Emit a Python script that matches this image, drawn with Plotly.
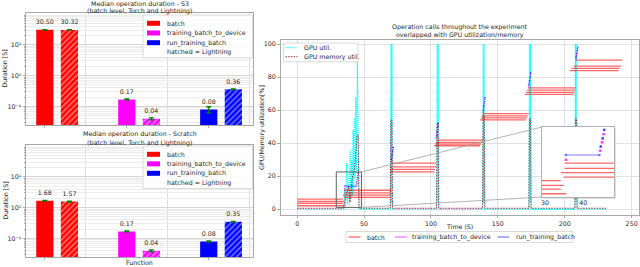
import plotly.graph_objects as go

W, H = 640, 267
FONT = "DejaVu Sans"
FS = 6.3
INK = "#262626"
SPINE = "#a8a8a8"

# ---------------- data: median operation durations (left panels) ----------------
functions = ["batch", "training_batch_to_device", "run_training_batch"]
func_colors = ["#ff0000", "#ff00ff", "#0000ff"]
s3_torch = [30.50, 0.17, 0.08]
s3_lightning = [30.32, 0.04, 0.36]
s3_torch_err = [0.6, 0.006, 0.018]
s3_lightning_err = [0.6, 0.003, 0.012]
scratch_torch = [1.68, 0.17, 0.08]
scratch_lightning = [1.57, 0.04, 0.35]
scratch_torch_err = [0.05, 0.006, 0.004]
scratch_lightning_err = [0.05, 0.003, 0.01]
dur_tick_vals = [0.1, 1, 10]
dur_tick_text = ["10⁻¹", "10⁰", "10¹"]

# ---------------- data: operation calls timeline (right panel) ----------------
batch_level = [6.0, 4.6, 3.4, 2.0,
               7.1, 8.5, 9.8, 11.4,
               22.6, 24.1, 25.6, 27.9,
               38.4, 39.4, 40.4, 41.8,
               54.1, 55.3, 56.5, 57.9,
               69.5, 70.7, 72.1, 73.5,
               83.9, 85.3, 86.7, 90.3]
batch_start = [0.0, 0.0, 0.0, 0.0,
               34.8, 34.1, 35.1, 35.1,
               69.3, 69.5, 70.0, 70.2,
               102.5, 103.0, 103.7, 105.0,
               136.6, 137.5, 138.0, 138.8,
               170.0, 171.0, 171.8, 172.4,
               203.7, 205.0, 206.7, 208.2]
batch_end = [34.1, 34.8, 34.1, 35.5,
             69.3, 69.5, 70.0, 70.2,
             102.5, 103.0, 103.7, 103.7,
             136.6, 137.5, 138.0, 138.8,
             171.0, 171.9, 172.4, 173.0,
             206.9, 207.3, 207.7, 208.0,
             240.3, 241.0, 242.3, 243.0]

tbd_start = [35.4, 44.3, 44.8, 45.2,
             70.3, 70.7, 71.1, 71.5,
             103.9, 104.3, 104.7, 105.1,
             138.9, 139.3, 139.7, 140.1,
             173.0, 173.4, 173.8, 174.2,
             208.3, 208.7, 209.1, 209.5]
tbd_level = [12.4, 15.2, 17.8, 20.3,
             29.0, 31.4, 33.8, 36.2,
             43.0, 45.6, 48.2, 50.8,
             58.8, 61.3, 63.8, 66.3,
             74.5, 76.8, 79.1, 81.4,
             91.2, 93.2, 95.2, 97.2]
tbd_duration = 0.17

rtb_start = [35.4, 44.5, 45.0, 45.4,
             70.5, 70.9, 71.3, 71.7,
             104.1, 104.5, 104.9, 105.3,
             139.1, 139.5, 139.9, 140.3,
             173.2, 173.6, 174.0, 174.4,
             208.5, 208.9, 209.3, 209.7]
rtb_duration = [8.8, 0.08, 0.08, 0.08,
                0.08, 0.08, 0.08, 0.08,
                0.08, 0.08, 0.08, 0.08,
                0.08, 0.08, 0.08, 0.08,
                0.08, 0.08, 0.08, 0.08,
                0.08, 0.08, 0.08, 0.08]
rtb_level = [13.9, 16.5, 19.0, 21.6,
             30.2, 32.6, 35.0, 37.4,
             44.3, 46.9, 49.5, 52.1,
             60.0, 62.5, 65.0, 67.5,
             75.6, 77.9, 80.2, 82.5,
             92.2, 94.2, 96.2, 98.2]

gpu_time = [0, 34.5, 35.3, 35.8, 37.0, 37.5, 38.5, 39.0, 39.6, 40.1, 40.8, 41.3,
            41.8, 42.3, 42.7, 43.2, 43.8, 44.3, 45.0, 45.6, 46.2,
            69.6, 70.0, 70.4, 70.8, 71.2,
            104.2, 104.6, 105.0, 105.4, 105.8,
            138.6, 139.0, 139.4, 139.8, 140.2,
            173.2, 173.6, 174.0, 174.4, 174.8,
            207.6, 208.0, 208.4, 208.8, 209.2, 231.0]
gpu_util = [0, 0, 12, 0, 28, 3, 22, 2, 36, 6, 30, 8,
            48, 12, 55, 18, 68, 22, 90, 30, 0,
            0, 100, 4, 100, 0,
            0, 100, 4, 100, 0,
            0, 100, 4, 100, 0,
            0, 100, 4, 100, 0,
            0, 100, 4, 100, 0, 0]

mem_time = [0, 34.5, 36.5, 38.5, 39.5, 41.0, 43.0, 44.8, 45.6, 46.2,
            69.6, 70.0, 70.8, 71.2, 104.2, 104.6, 105.4, 105.8,
            138.6, 139.0, 139.8, 140.2, 173.2, 173.6, 174.4, 174.8,
            207.6, 208.0, 208.8, 209.2, 231.0]
mem_util = [0.5, 0.5, 8, 14, 4, 18, 25, 45, 45, 0.5,
            0.5, 54, 54, 0.5, 0.5, 52, 52, 0.5,
            0.5, 57, 57, 0.5, 0.5, 55, 55, 0.5,
            0.5, 55, 55, 0.5, 0.5]

time_ticks = [0, 50, 100, 150, 200, 250]
util_ticks = [0, 20, 40, 60, 80, 100]
inset_ticks = [30, 40]

# ---------------- layout geometry (pixels -> paper) ----------------
def XP(px):
    return px / W


def YP(py):
    return 1 - py / H


LEFT_X = [XP(26), XP(253)]
TOP_Y = [YP(125), YP(13)]
BOT_Y = [YP(257), YP(145)]
MAIN_X = [XP(280.5), XP(639)]
MAIN_Y = [YP(215), YP(40)]
INS_X = [XP(542), XP(614)]
INS_Y = [YP(197), YP(127)]

BAR_RANGE = [-0.23, 2.54]
DUR_RANGE = [-1.6, 2.03]
TIME_RANGE = [-12.5, 255.5]
UTIL_RANGE = [-3.6, 102.5]
INS_TIME = [29.2, 48.0]
INS_LEVEL = [1.0, 22.5]

RED_A = "rgba(255,0,0,0.6)"
MAG_A = "rgba(255,0,255,0.55)"
BLUE_A = "rgba(0,0,255,0.5)"
CYAN = "#00ffff"
MEM = "#a52a2a"

fig = go.Figure()

# ---------------- left bar panels ----------------
light_offset = 0.3
bar_w = 0.21
pos = list(range(len(functions)))
label_font = dict(family=FONT, size=FS, color=INK)


def add_bars(torch, light, terr, lerr, xa, ya):
    for xs, vals, errs, patterned in ((pos, torch, terr, False),
                                      ([p + light_offset for p in pos], light, lerr, True)):
        marker = dict(color=func_colors, line=dict(width=0))
        if patterned:
            marker["pattern"] = dict(shape="/", fgcolor="white", bgcolor=func_colors,
                                     size=4, solidity=0.35)
        fig.add_trace(go.Bar(
            x=xs, y=vals, width=bar_w, marker=marker,
            error_y=dict(type="data", array=errs, color="green", thickness=1.3, width=2.5),
            xaxis=xa, yaxis=ya, showlegend=False, hoverinfo="skip"))
        fig.add_trace(go.Scatter(
            x=xs, y=vals, mode="markers+text", text=[f"{v:.2f}" for v in vals],
            marker=dict(size=5, opacity=0),
            textposition="top center", textfont=label_font, cliponaxis=False,
            xaxis=xa, yaxis=ya, showlegend=False, hoverinfo="skip"))


add_bars(s3_torch, s3_lightning, s3_torch_err, s3_lightning_err, "x", "y")
add_bars(scratch_torch, scratch_lightning, scratch_torch_err, scratch_lightning_err, "x2", "y2")

# ---------------- right timeline panel ----------------
def segments(starts, ends, levels):
    xs, ys = [], []
    for s, e, l in zip(starts, ends, levels):
        xs += [s, e, None]
        ys += [l, l, None]
    return xs, ys


def add_ops(xa, ya, msize):
    bx, by = segments(batch_start, batch_end, batch_level)
    fig.add_trace(go.Scatter(x=bx, y=by, mode="lines", name="batch",
                             line=dict(color=RED_A, width=1.3),
                             xaxis=xa, yaxis=ya, showlegend=False, hoverinfo="skip"))
    tx, ty = segments(tbd_start, [s + tbd_duration for s in tbd_start], tbd_level)
    fig.add_trace(go.Scatter(x=tx, y=ty, mode="lines+markers", name="training_batch_to_device",
                             line=dict(color=MAG_A, width=1.2),
                             marker=dict(color=MAG_A, size=msize, symbol="square", line=dict(width=0)),
                             xaxis=xa, yaxis=ya, showlegend=False, hoverinfo="skip"))
    rx, ry = segments(rtb_start, [s + d for s, d in zip(rtb_start, rtb_duration)], rtb_level)
    fig.add_trace(go.Scatter(x=rx, y=ry, mode="lines+markers", name="run_training_batch",
                             line=dict(color=BLUE_A, width=1.2),
                             marker=dict(color=BLUE_A, size=msize, symbol="square", line=dict(width=0)),
                             xaxis=xa, yaxis=ya, showlegend=False, hoverinfo="skip"))


fig.add_trace(go.Scatter(x=gpu_time, y=gpu_util, mode="lines", name="GPU util.",
                         line=dict(color=CYAN, width=1.2, dash="1px,1px"),
                         xaxis="x3", yaxis="y3", showlegend=False, hoverinfo="skip"))
fig.add_trace(go.Scatter(x=mem_time, y=mem_util, mode="lines", name="GPU memory util.",
                         line=dict(color=MEM, width=1, dash="1.5px,1.2px"),
                         xaxis="x3", yaxis="y3", showlegend=False, hoverinfo="skip"))
add_ops("x3", "y3", 1.3)
add_ops("x4", "y4", 2.3)

# ---------------- axes ----------------
tickfont = dict(family=FONT, size=FS, color=INK)
base_axis = dict(showline=True, linecolor=SPINE, linewidth=0.8, mirror=True,
                 ticks="outside", ticklen=2.5, tickcolor=SPINE, tickwidth=0.8,
                 tickfont=tickfont, zeroline=False, ticklabeloverflow="allow")

minor_dur = [k * 10 ** e for e in range(-2, 3) for k in range(2, 10)]


def dur_yaxis(domain, anchor):
    return dict(base_axis, domain=domain, anchor=anchor, type="log", range=DUR_RANGE,
                tickvals=dur_tick_vals, ticktext=dur_tick_text,
                showgrid=True, gridcolor="#d4d4d4", gridwidth=0.8,
                minor=dict(tickvals=minor_dur, showgrid=True, gridcolor="#ececec",
                           gridwidth=0.6, ticks="outside", ticklen=1.5, tickcolor=SPINE))


def bar_xaxis(domain, anchor):
    return dict(base_axis, domain=domain, anchor=anchor, range=BAR_RANGE,
                tickvals=pos, showticklabels=False, showgrid=False,
                minor=dict(tickvals=[p + 0.5 for p in pos], showgrid=True,
                           gridcolor="#dcdcdc", gridwidth=0.8, ticks=""))


fig.update_layout(
    width=W, height=H,
    margin=dict(l=0, r=0, t=0, b=0),
    paper_bgcolor="white", plot_bgcolor="white",
    showlegend=False, barmode="overlay",
    font=dict(family=FONT, size=FS, color=INK),
    xaxis=bar_xaxis(LEFT_X, "y"),
    yaxis=dur_yaxis(TOP_Y, "x"),
    xaxis2=bar_xaxis(LEFT_X, "y2"),
    yaxis2=dur_yaxis(BOT_Y, "x2"),
    xaxis3=dict(base_axis, domain=MAIN_X, anchor="y3", range=TIME_RANGE,
                tickvals=time_ticks, showgrid=True, gridcolor="#e0e0e0", gridwidth=0.8),
    yaxis3=dict(base_axis, domain=MAIN_Y, anchor="x3", range=UTIL_RANGE,
                tickvals=util_ticks, showgrid=True, gridcolor="#e0e0e0", gridwidth=0.8),
    xaxis4=dict(base_axis, domain=INS_X, anchor="y4", range=INS_TIME,
                tickvals=inset_ticks, showgrid=False, ticks="", linecolor="#b0b0b0"),
    yaxis4=dict(base_axis, domain=INS_Y, anchor="x4", range=INS_LEVEL,
                showticklabels=False, showgrid=False, ticks="", linecolor="#b0b0b0"),
)

# ---------------- shapes & annotations ----------------
shapes = []
annotations = []


def text(x, y, s, anchor="center", angle=0):
    annotations.append(dict(x=XP(x), y=YP(y), xref="paper", yref="paper", text=s,
                            showarrow=False, xanchor=anchor, yanchor="middle",
                            textangle=angle, borderpad=0,
                            font=dict(family=FONT, size=FS, color=INK)))


def rect_px(x0, y0, x1, y1, fill, line_color, lw=0.8, layer="above"):
    shapes.append(dict(type="rect", xref="paper", yref="paper",
                       x0=XP(x0), x1=XP(x1), y0=YP(y1), y1=YP(y0),
                       fillcolor=fill, line=dict(color=line_color, width=lw), layer=layer))


def line_px(x0, y0, x1, y1, color, dash="solid", lw=1.3):
    shapes.append(dict(type="line", xref="paper", yref="paper",
                       x0=XP(x0), x1=XP(x1), y0=YP(y0), y1=YP(y1),
                       line=dict(color=color, width=lw, dash=dash), layer="above"))


# titles
left_cx = (26 + 253) / 2
text(left_cx, 3.6, "Median operation duration - S3")
text(left_cx, 10.8, "(batch level, Torch and Lightning)")
text(left_cx, 134.3, "Median operation duration - Scratch")
text(left_cx, 142.5, "(batch level, Torch and Lightning)")
main_cx = (280.5 + 639) / 2
text(main_cx, 27.3, "Operation calls throughout the experiment")
text(main_cx, 35.0, "overlapped with GPU utilization/memory")

# axis titles
text(4.5, 69, "Duration [S]", angle=-90)
text(4.5, 201, "Duration [S]", angle=-90)
text(left_cx, 262.8, "Function")
text(main_cx, 226, "Time (S)")
text(262.5, 127.5, "GPU/Memory utilization[%]", angle=-90)

# left legends
for top, rows in ((15, [23.3, 33.0, 42.7, 52.3]), (146, [154.3, 163.8, 173.3, 183.0])):
    rect_px(143, top, 252.5, rows[-1] + 5.5, "rgba(255,255,255,0.85)", "#d0d0d0")
    for i, name in enumerate(functions):
        rect_px(147, rows[i] - 2.5, 160, rows[i] + 2.5, func_colors[i], func_colors[i], lw=0)
        text(166, rows[i], name, "left")
    text(166, rows[3], "hatched = Lightning", "left")

# GPU legend
rect_px(283.5, 43, 358, 61.7, "rgba(255,255,255,0.85)", "#d0d0d0")
line_px(285.5, 47.7, 297.5, 47.7, CYAN, "1px,1px", 1.2)
text(302.5, 47.7, "GPU util.", "left")
line_px(285.5, 56.7, 297.5, 56.7, MEM, "1.5px,1.2px", 1)
text(302.5, 56.7, "GPU memory util.", "left")

# operations legend (below main panel)
rect_px(346, 231.5, 573, 242.5, "white", "#d0d0d0")
for (x0, x1, tx), col, name in zip(((348.5, 360.5, 365.5), (395, 407, 411), (497.5, 509, 515)),
                                   (RED_A, MAG_A, BLUE_A), functions):
    line_px(x0, 237, x1, 237, col)
    text(tx, 237, name, "left")


# inset: white backing, zoom rectangle and connectors
def paper_to_time(p):
    return TIME_RANGE[0] + (p - MAIN_X[0]) / (MAIN_X[1] - MAIN_X[0]) * (TIME_RANGE[1] - TIME_RANGE[0])


def paper_to_util(p):
    return UTIL_RANGE[0] + (p - MAIN_Y[0]) / (MAIN_Y[1] - MAIN_Y[0]) * (UTIL_RANGE[1] - UTIL_RANGE[0])


rect_px(543.5, 128.5, 615.5, 198.5, "#c8c8c8", "#c8c8c8", lw=0, layer="below")
shapes.append(dict(type="rect", xref="x4", yref="y4", x0=INS_TIME[0], x1=INS_TIME[1],
                   y0=INS_LEVEL[0], y1=INS_LEVEL[1], fillcolor="white",
                   line=dict(width=0), layer="below"))
shapes.append(dict(type="rect", xref="x3", yref="y3", x0=INS_TIME[0], x1=INS_TIME[1],
                   y0=INS_LEVEL[0], y1=INS_LEVEL[1], fillcolor="rgba(0,0,0,0)",
                   line=dict(color="#606060", width=1), layer="above"))
ins_left_t = paper_to_time(INS_X[0])
for corner_y, ins_p in ((INS_LEVEL[1], INS_Y[1]), (INS_LEVEL[0], INS_Y[0])):
    shapes.append(dict(type="line", xref="x3", yref="y3",
                       x0=INS_TIME[1], y0=corner_y, x1=ins_left_t, y1=paper_to_util(ins_p),
                       line=dict(color="#a0a0a0", width=0.8), layer="above"))

fig.update_layout(shapes=shapes, annotations=annotations)
fig.write_html("out.html", config={"displayModeBar": False},
               post_script="document.body.style.margin='0';document.body.style.padding='0';")
